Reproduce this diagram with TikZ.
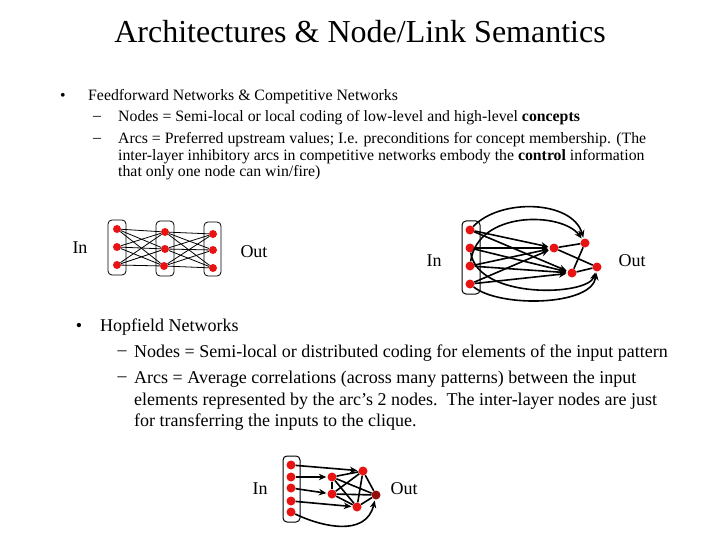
\documentclass[tikz,border=0pt]{standalone}
\usepackage{fontspec}
\setmainfont{Liberation Serif}
\usetikzlibrary{arrows.meta}
\definecolor{nodered}{RGB}{232,20,20}
\definecolor{darknode}{RGB}{150,15,15}
\begin{document}
\begin{tikzpicture}[x=1pt,y=-1pt,
  dot/.style={circle,fill=nodered,inner sep=0pt,minimum size=9pt},
  dotsm/.style={circle,fill=nodered,inner sep=0pt,minimum size=8pt},
  layerbox/.style={draw,rounded corners=4pt,line width=0.8pt},
  thinedge/.style={line width=0.8pt},
  thickedge/.style={line width=1.6pt},
  arr/.style={line width=1.6pt,-{Stealth[length=7.5pt,width=6.5pt]},shorten >=1pt},
  txtA/.style={anchor=west,inner sep=0pt,font=\fontsize{15.8}{18}\selectfont},
  txtB/.style={anchor=west,inner sep=0pt,font=\fontsize{18}{21}\selectfont},
  lbl/.style={inner sep=0pt,font=\fontsize{18}{21}\selectfont}]
\useasboundingbox (0,0) rectangle (720,540);
\fill[white] (0,0) rectangle (720,540);
% title
\node[inner sep=0pt,font=\fontsize{32}{36}\selectfont] (title) at (360,32) {Architectures \& Node/Link Semantics};
% first bullet
\node[txtA,anchor=center] (b1) at (63,97) {•};
\node[txtA] (t1) at (88,97) {Feedforward Networks \& Competitive Networks};
\node[txtA,anchor=center] (d1) at (97,118) {–};
\node[txtA] (t2) at (118,118) {Nodes = Semi-local or local coding of low-level and high-level \textbf{concepts}};
\node[txtA,anchor=center] (d2) at (97,140) {–};
\node[txtA] (t3) at (118,140) {Arcs = Preferred upstream values; I.e. preconditions for concept membership. (The};
\node[txtA] (t4) at (118,157) {inter-layer inhibitory arcs in competitive networks embody the \textbf{control} information};
\node[txtA] (t5) at (118,173) {that only one node can win/fire)};
% second bullet
\node[txtB,anchor=center] (b2) at (79,327) {•};
\node[txtB] (s1) at (100,327) {Hopfield Networks};
\node[txtB,anchor=center] (e1) at (122,353) {–};
\node[txtB] (s2) at (134,353) {Nodes = Semi-local or distributed coding for elements of the input pattern};
\node[txtB,anchor=center] (e2) at (122,379) {–};
\node[txtB] (s3) at (134,379) {Arcs = Average correlations (across many patterns) between the input};
\node[txtB] (s4) at (134,401) {elements represented by the arc’s 2 nodes.\ \ The inter-layer nodes are just};
\node[txtB] (s5) at (134,422) {for transferring the inputs to the clique.};

% ---------- Diagram 1: feedforward ----------
\node[lbl] (in1) at (80,248) {In};
\node[lbl] (out1) at (254,252) {Out};
\draw[layerbox] (108,220) rectangle (126,275);
\draw[layerbox] (156,221) rectangle (174,276);
\draw[layerbox] (204,222) rectangle (221,276);
\node[dotsm] (p1) at (117,229) {};
\node[dotsm] (p2) at (117,247) {};
\node[dotsm] (p3) at (117,265) {};
\node[dotsm] (q1) at (165,232) {};
\node[dotsm] (q2) at (165,249) {};
\node[dotsm] (q3) at (164,266) {};
\node[dotsm] (r1) at (213,234) {};
\node[dotsm] (r2) at (213,250) {};
\node[dotsm] (r3) at (213,268) {};
\foreach \a in {p1,p2,p3}{\foreach \b in {q1,q2,q3}{\draw[thinedge] (\a) -- (\b);}}
\foreach \a in {q1,q2,q3}{\foreach \b in {r1,r2,r3}{\draw[thinedge] (\a) -- (\b);}}

% ---------- Diagram 2: competitive ----------
\node[lbl] (in2) at (434,261) {In};
\node[lbl] (out2) at (632,261) {Out};
\draw[layerbox,line width=1pt] (462,221) rectangle (480,294);
\node[dot] (i1) at (470,230) {};
\node[dot] (i2) at (470,248) {};
\node[dot] (i3) at (470,266) {};
\node[dot] (i4) at (470,284) {};
\node[dot] (h1) at (554,248) {};
\node[dot] (h2) at (572,273) {};
\node[dot] (o1) at (585,243) {};
\node[dot] (o2) at (597,267) {};
\foreach \a in {i1,i2,i3,i4}{\foreach \b in {h1,h2}{\draw[arr] (\a) -- (\b);}}
\draw[thickedge] (h1) -- (o1);
\draw[thickedge] (h1) -- (o2);
\draw[thickedge] (h2) -- (o1);
\draw[thickedge] (h2) -- (o2);
\draw[arr] (i1) .. controls (500,198) and (572,200) .. (o1);
\draw[arr] (i3) .. controls (478,210) and (562,212) .. (o1);
\draw[arr] (i4) .. controls (500,308) and (592,306) .. (o2);
\draw[arr] (i2) .. controls (478,300) and (588,296) .. (o2);

% ---------- Diagram 3: Hopfield ----------
\node[lbl] (in3) at (260,489) {In};
\node[lbl] (out3) at (404,489) {Out};
\draw[layerbox,line width=1pt] (283,456) rectangle (300,522);
\node[dot] (j1) at (291,465) {};
\node[dot] (j2) at (291,477) {};
\node[dot] (j3) at (291,488) {};
\node[dot] (j4) at (291,501) {};
\node[dot] (j5) at (291,512) {};
\node[dot] (ka) at (332,477) {};
\node[dot] (kb) at (332,494) {};
\node[dot] (kc) at (363,471) {};
\node[dot] (kd) at (357,507) {};
\node[dot,fill=darknode] (ke) at (376,495) {};
\draw[thickedge] (ka) -- (kb);
\draw[thickedge] (ka) -- (kc);
\draw[thickedge] (ka) -- (kd);
\draw[thickedge] (ka) -- (ke);
\draw[thickedge] (kb) -- (kc);
\draw[thickedge] (kb) -- (kd);
\draw[thickedge] (kb) -- (ke);
\draw[thickedge] (kc) -- (kd);
\draw[thickedge] (kc) -- (ke);
\draw[thickedge] (kd) -- (ke);
\draw[arr] (j1) -- (kc);
\draw[arr] (j2) -- (ka);
\draw[arr] (j3) -- (kb);
\draw[arr] (j4) -- (kd);
\draw[arr] (j5) .. controls (320,526) and (366,538) .. (ke);
\end{tikzpicture}
\end{document}
